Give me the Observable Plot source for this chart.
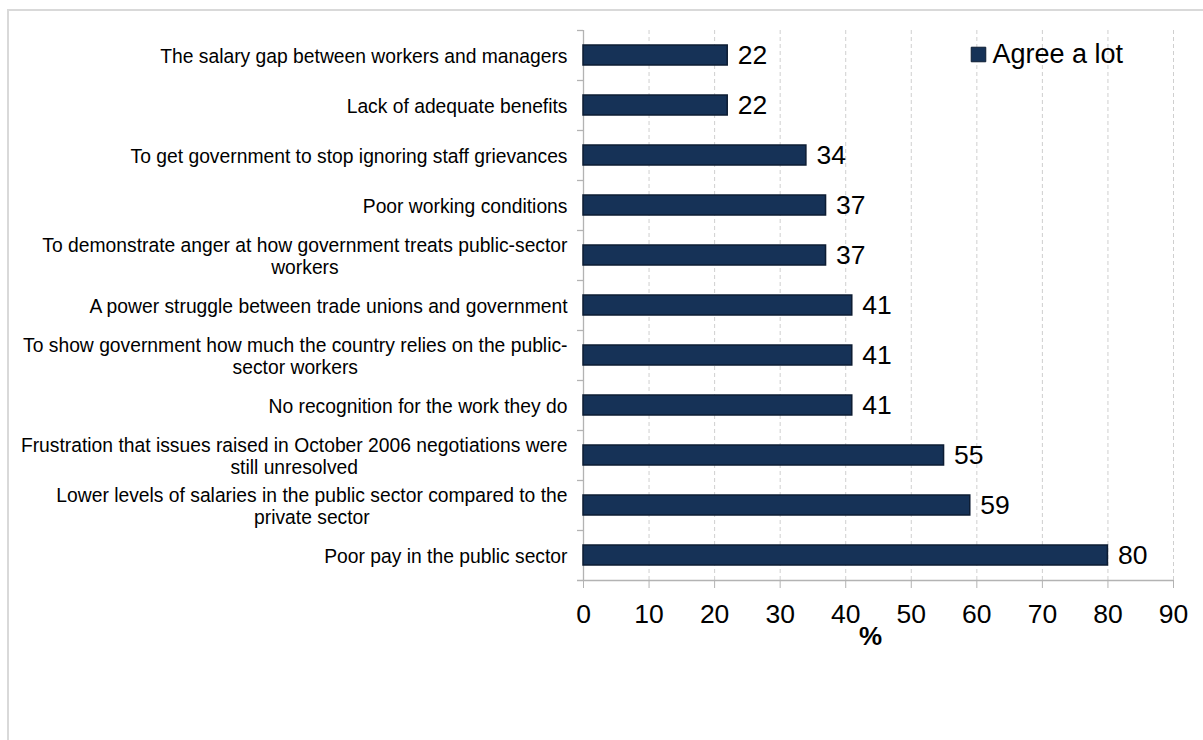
<!DOCTYPE html>
<html>
<head>
<meta charset="utf-8">
<script src="https://cdn.jsdelivr.net/npm/d3@7"></script>
<script src="https://cdn.jsdelivr.net/npm/@observablehq/plot@0.6"></script>
<style>
  html, body { margin: 0; padding: 0; background: #fff; }
  #wrap { position: relative; width: 1203px; height: 740px; overflow: hidden; }
  #border { position: absolute; left: 7px; top: 9px; width: 1300px; height: 900px; border: 2px solid #d9d9d9; box-sizing: border-box; }
  #chart { position: absolute; left: 0; top: 0; }
</style>
</head>
<body>
<div id="wrap"><div id="border"></div><div id="chart"></div></div>
<script>
const categories = [
  "The salary gap between workers and managers",
  "Lack of adequate benefits",
  "To get government to stop ignoring staff grievances",
  "Poor working conditions",
  "To demonstrate anger at how government treats public-sector workers",
  "A power struggle between trade unions and government",
  "To show government how much the country relies on the public-sector workers",
  "No recognition for the work they do",
  "Frustration that issues raised in October 2006 negotiations were still unresolved",
  "Lower levels of salaries in the public sector compared to the private sector",
  "Poor pay in the public sector"
];
const labels = [
  "The salary gap between workers and managers",
  "Lack of adequate benefits",
  "To get government to stop ignoring staff grievances",
  "Poor working conditions",
  "To demonstrate anger at how government treats public-sector\nworkers",
  "A power struggle between trade unions and government",
  "To show government how much the country relies on the public-\nsector workers",
  "No recognition for the work they do",
  "Frustration that issues raised in October 2006 negotiations were\nstill unresolved",
  "Lower levels of salaries in the public sector compared to the\nprivate sector",
  "Poor pay in the public sector"
];
const values = [22, 22, 34, 37, 37, 41, 41, 41, 55, 59, 80];
const xTicks = [0, 10, 20, 30, 40, 50, 60, 70, 80, 90];
const seriesName = "Agree a lot";

const data = categories.map((c, i) => ({category: c, label: labels[i], value: values[i]}));
const barColor = "#163257";
const axisGray = "#b3b3b3";

const chart = Plot.plot({
  width: 1203,
  height: 740,
  marginLeft: 583,
  marginRight: 30,
  marginTop: 30,
  marginBottom: 160,
  style: {fontFamily: "'Liberation Sans', Arial, sans-serif", fontSize: "26px", background: "transparent", color: "#000"},
  x: {domain: [0, 90], ticks: xTicks},
  y: {domain: categories, paddingInner: 0.6, paddingOuter: 0.3, axis: null},
  marks: [
    Plot.ruleX(xTicks.filter(d => d > 0), {stroke: "#cfcfcf", strokeDasharray: "4,3", strokeWidth: 1}),
    Plot.ruleX([0], {stroke: axisGray, strokeWidth: 1.3}),
    Plot.ruleY(categories, {y: d => d, dy: -25, insetLeft: -6, insetRight: 590, stroke: axisGray, strokeWidth: 1.3}),
    Plot.ruleY(categories.slice(-1), {y: d => d, dy: 25, insetLeft: -6, stroke: axisGray, strokeWidth: 1.3}),
    Plot.axisX({ticks: xTicks, tickSize: 8, tickPadding: 16, stroke: axisGray, fill: "#000", fontSize: 26.5, label: null}),
    Plot.barX(data, {x: "value", y: "category", fill: barColor, stroke: "#0c1c33", strokeWidth: 1.5}),
    Plot.text(data, {x: "value", y: "category", text: d => String(d.value), dx: 10, textAnchor: "start", fontSize: 26.5, fill: "#000"}),
    Plot.text(data, {x: 0, y: "category", text: "label", dx: -16, textAnchor: "end", lineAnchor: "middle", lineHeight: 1.15, fontSize: 19.3, fill: "#000", className: "ylab"}),
    Plot.text(["%"], {frameAnchor: "bottom", dx: -8, dy: 64, text: d => d, fontWeight: "bold", fontSize: 26, fill: "#000"}),
    Plot.dot([seriesName], {frameAnchor: "top-left", dx: 395, dy: 24, symbol: "square", r: 8.2, fill: barColor, stroke: "#0c1c33", strokeWidth: 1}),
    Plot.text([seriesName], {frameAnchor: "top-left", dx: 409, dy: 24, text: d => d, textAnchor: "start", lineAnchor: "middle", fontSize: 27, fill: "#000"})
  ]
});
document.getElementById("chart").append(chart);

// center the wrapped (two-line) category labels as a block, right-aligned to the axis
document.querySelectorAll("g.ylab text").forEach(t => {
  const spans = t.querySelectorAll("tspan");
  if (spans.length > 1) {
    const W = Math.max(...[...spans].map(s => s.getComputedTextLength()));
    t.setAttribute("text-anchor", "middle");
    spans.forEach(s => s.setAttribute("x", -W / 2));
  }
});
</script>
</body>
</html>
